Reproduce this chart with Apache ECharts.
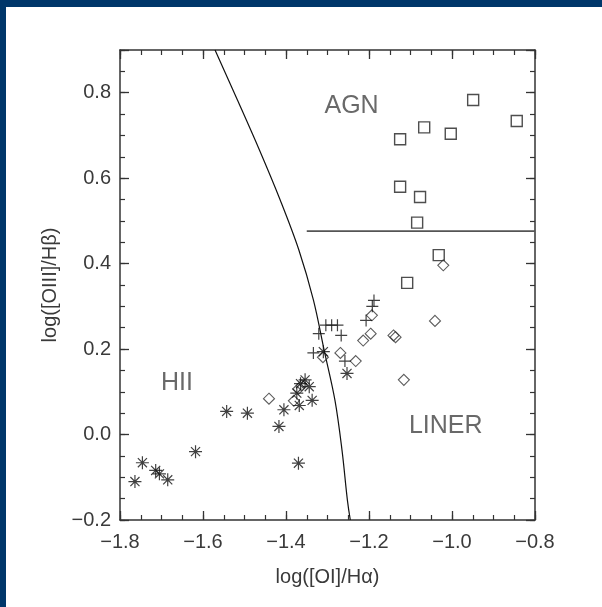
<!DOCTYPE html>
<html>
<head>
<meta charset="utf-8">
<script src="https://cdn.jsdelivr.net/npm/echarts@6/dist/echarts.min.js"></script>
<style>
html,body{margin:0;padding:0;background:#fff;}
#c{width:602px;height:607px;}
</style>
</head>
<body>
<div id="c"></div>
<script>
// ---- data ----
const squares = [
  [-0.949, 0.783], [-0.844, 0.734], [-1.067, 0.719], [-1.003, 0.704], [-1.125, 0.691],
  [-1.125, 0.580], [-1.077, 0.556], [-1.084, 0.496], [-1.032, 0.420], [-1.108, 0.355]
];
const diamonds = [
  [-1.021, 0.396], [-1.041, 0.266], [-1.193, 0.279], [-1.196, 0.236], [-1.214, 0.220],
  [-1.141, 0.232], [-1.136, 0.228], [-1.269, 0.191], [-1.232, 0.172], [-1.311, 0.181],
  [-1.116, 0.128], [-1.441, 0.084], [-1.381, 0.079], [-1.370, 0.107], [-1.362, 0.115]
];
const pluses = [
  [-1.188, 0.314], [-1.192, 0.300], [-1.207, 0.267], [-1.304, 0.256], [-1.290, 0.256],
  [-1.276, 0.256], [-1.321, 0.236], [-1.267, 0.232], [-1.334, 0.191], [-1.258, 0.172]
];
const asterisks = [
  [-1.764, -0.110], [-1.746, -0.066], [-1.714, -0.084], [-1.705, -0.092], [-1.685, -0.106],
  [-1.618, -0.040], [-1.543, 0.054], [-1.493, 0.050], [-1.417, 0.019], [-1.405, 0.058],
  [-1.370, -0.067], [-1.368, 0.068], [-1.374, 0.097], [-1.365, 0.119], [-1.354, 0.128],
  [-1.344, 0.112], [-1.337, 0.080], [-1.253, 0.143], [-1.310, 0.194]
];
const curve = [
  [-1.571, 0.900], [-1.517, 0.783], [-1.464, 0.666], [-1.414, 0.549], [-1.369, 0.432],
  [-1.334, 0.315], [-1.308, 0.197], [-1.282, 0.080], [-1.265, -0.037], [-1.252, -0.154],
  [-1.245, -0.200]
];
const hLine = [[-1.35, 0.476], [-0.80, 0.476]];
const regionLabels = [
  { name: 'AGN', value: [-1.242, 0.769] },
  { name: 'HII', value: [-1.663, 0.121] },
  { name: 'LINER', value: [-1.015, 0.019] }
];
const xRange = [-1.8, -0.8];
const yRange = [-0.2, 0.9];
const xMajor = 0.2, yMajor = 0.2, minorStep = 0.05;
const xTitle = 'log([OI]/Hα)';
const yTitle = 'log([OIII]/Hβ)';

// ---- chart ----
const FONT = 'Liberation Sans';
const TXT = '#3a3a3a';
const LINE = '#333';
function fmt(v, step) {
  const r = v / step;
  if (Math.abs(r - Math.round(r)) > 1e-6) return '';
  return v.toFixed(1).replace('-', '\u2212');
}
function axisSet(kind, pos, range, major, withLabel, showLine) {
  const base = {
    type: 'value', min: range[0], max: range[1], position: pos,
    splitLine: { show: false }
  };
  const majorAx = Object.assign({}, base, {
    interval: major,
    axisLine: { show: showLine, onZero: false, lineStyle: { color: LINE, width: 1.5 } },
    axisTick: { show: true, inside: true, length: 9, lineStyle: { color: LINE, width: 1.3 } },
    axisLabel: withLabel ? {
      show: true, fontFamily: FONT, fontSize: 20, color: TXT,
      margin: kind === 'x' ? 12 : 9,
      showMinLabel: true, showMaxLabel: true,
      formatter: v => fmt(v, major)
    } : { show: false }
  });
  const minorAx = Object.assign({}, base, {
    interval: minorStep,
    axisLine: { show: false, onZero: false },
    axisTick: { show: true, inside: true, length: 5, lineStyle: { color: LINE, width: 1.2 } },
    axisLabel: { show: false }
  });
  return [majorAx, minorAx];
}
const xAxes = [].concat(
  axisSet('x', 'bottom', xRange, xMajor, true, true),
  axisSet('x', 'top', xRange, xMajor, false, true)
);
xAxes[0].name = xTitle;
xAxes[0].nameLocation = 'middle';
xAxes[0].nameGap = 47;
xAxes[0].nameTextStyle = { fontFamily: FONT, fontSize: 20, color: TXT };
const yAxes = [].concat(
  axisSet('y', 'left', yRange, yMajor, true, true),
  axisSet('y', 'right', yRange, yMajor, false, true)
);
yAxes[0].name = yTitle;
yAxes[0].nameLocation = 'middle';
yAxes[0].nameGap = 55;
yAxes[0].nameTextStyle = { fontFamily: FONT, fontSize: 20, color: TXT };

const hollow = (c, w) => ({ color: 'rgba(0,0,0,0)', borderColor: c, borderWidth: w });
const PLUS = 'path://M0,5L10,5M5,0L5,10';
const STAR = 'path://M0,5L10,5M5,0L5,10M1.5,1.5L8.5,8.5M8.5,1.5L1.5,8.5';

const chart = echarts.init(document.getElementById('c'), null, { renderer: 'canvas' });
chart.setOption({
  animation: false,
  backgroundColor: '#fff',
  grid: { left: 120, right: 67, top: 50, bottom: 87 },
  xAxis: xAxes,
  yAxis: yAxes,
  graphic: [
    { type: 'rect', left: 0, top: 0, shape: { width: 602, height: 7 }, style: { fill: '#00376a' }, z: 100 },
    { type: 'rect', left: 0, top: 0, shape: { width: 6, height: 607 }, style: { fill: '#00376a' }, z: 100 }
  ],
  series: [
    { type: 'line', data: curve, smooth: 0.35, symbol: 'none', lineStyle: { color: '#111', width: 1.2 }, z: 2 },
    { type: 'line', data: hLine, symbol: 'none', lineStyle: { color: '#555', width: 1.6 }, z: 2 },
    { type: 'scatter', data: squares, symbol: 'rect', symbolSize: 11, itemStyle: hollow('#222', 1.4), z: 3 },
    { type: 'scatter', data: diamonds, symbol: 'diamond', symbolSize: 11, itemStyle: hollow('#333', 1.1), z: 3 },
    { type: 'scatter', data: pluses, symbol: PLUS, symbolSize: 12, itemStyle: hollow('#111', 1.2), z: 3 },
    { type: 'scatter', data: asterisks, symbol: STAR, symbolSize: 13, itemStyle: hollow('#111', 1.2), z: 3 },
    {
      type: 'scatter', data: regionLabels, symbolSize: 0, silent: true,
      label: { show: true, position: 'inside', formatter: p => p.name, fontFamily: FONT, fontSize: 25, color: '#444' }
    }
  ]
});
</script>
</body>
</html>
